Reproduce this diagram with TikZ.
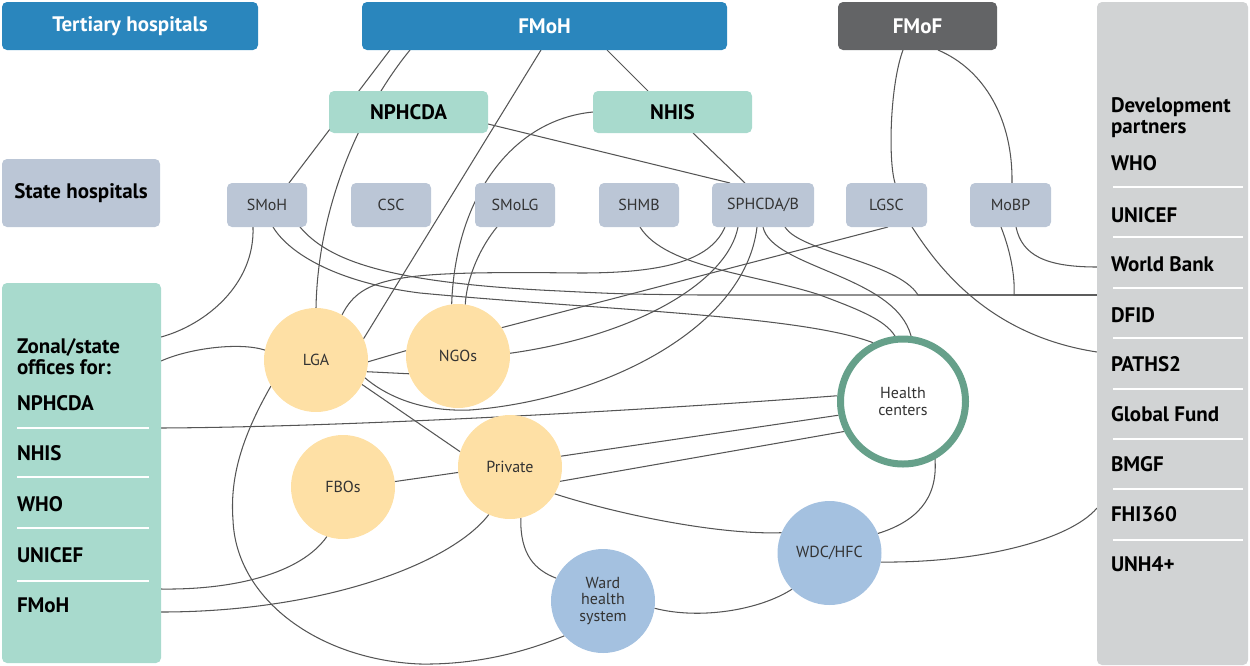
\documentclass[tikz,border=0pt]{standalone}
\usepackage{fontspec}
\setmainfont{PT Sans}
\definecolor{hblue}{HTML}{2A86BD}
\definecolor{hgray}{HTML}{636466}
\definecolor{mint}{HTML}{A8DACD}
\definecolor{sblue}{HTML}{BBC6D6}
\definecolor{dpgray}{HTML}{D1D3D4}
\definecolor{yel}{HTML}{FEE0A5}
\definecolor{cblue}{HTML}{A4C1E0}
\definecolor{hcgreen}{HTML}{66A08A}
\definecolor{lnc}{HTML}{555555}
\definecolor{txtgray}{HTML}{333333}
\newcommand\myhd{\fontsize{21}{22}\selectfont\bfseries}
\newcommand\mylt{\fontsize{16}{16.5}\selectfont}
\pgfdeclarelayer{bg}
\pgfsetlayers{bg,main}
\begin{document}
\begin{tikzpicture}[x=1pt,y=-1pt,
  every node/.style={inner sep=0pt, outer sep=0pt},
  bbox/.style={rounded corners=5pt, font=\myhd},
  sbox/.style={rounded corners=5pt, fill=sblue, minimum width=80pt, minimum height=44pt, font=\mylt, text=txtgray},
  circ/.style={circle, minimum size=104pt, font=\mylt, text=txtgray, align=center},
  lab/.style={anchor=base west, font=\myhd},
  sepline/.style={draw=white, line width=1.5pt},
  conn/.style={draw=lnc, line width=1.05pt}
]
\useasboundingbox (0,0) rectangle (1250,665);
% top boxes
\node[bbox, fill=hblue, text=white, minimum width=256pt, minimum height=48pt] (tert) at (130,26) {Tertiary hospitals};
\node[bbox, fill=hblue, text=white, minimum width=365pt, minimum height=48pt] (fmoh) at (544.5,26) {FMoH};
\node[bbox, fill=hgray, text=white, minimum width=159pt, minimum height=48pt] (fmof) at (917.5,26) {FMoF};
\node[bbox, fill=mint, minimum width=159pt, minimum height=42pt] (nphcda) at (408.5,112) {NPHCDA};
\node[bbox, fill=mint, minimum width=159pt, minimum height=42pt] (nhis) at (672.5,112) {NHIS};
\node[bbox, fill=sblue, minimum width=158pt, minimum height=68pt] (sh) at (81,193) {State hospitals};
% state level boxes
\node[sbox] (smoh) at (267,205) {SMoH};
\node[sbox] (csc) at (391,205) {CSC};
\node[sbox] (smolg) at (515,205) {SMoLG};
\node[sbox] (shmb) at (639,205) {SHMB};
\node[sbox, minimum width=102pt] (sphcda) at (763,205) {SPHCDA/B};
\node[sbox, minimum width=81pt] (lgsc) at (886.5,205) {LGSC};
\node[sbox, minimum width=81pt] (mobp) at (1010.5,205) {MoBP};
% side boxes
\node[bbox, fill=mint, minimum width=159pt, minimum height=380pt] (zonal) at (81.5,473) {};
\node[bbox, fill=dpgray, minimum width=151pt, minimum height=663pt] (dp) at (1172.5,333.5) {};
% zonal list
\node[lab] (z1) at (17,353) {Zonal/state};
\node[lab] (z2) at (17,374) {offices for:};
\node[lab] (z3) at (17,410) {NPHCDA};
\node[lab] (z4) at (17,460) {NHIS};
\node[lab] (z5) at (17,511) {WHO};
\node[lab] (z6) at (17,562) {UNICEF};
\node[lab] (z7) at (17,612) {FMoH};
\foreach \yy in {428,477,528,581} \draw[sepline] (17,\yy) -- (149,\yy);
% development partners list
\node[lab] (d1) at (1111,112) {Development};
\node[lab] (d2) at (1111,133) {partners};
\node[lab] (d3) at (1111,170) {WHO};
\node[lab] (d4) at (1111,222) {UNICEF};
\node[lab] (d5) at (1111,271) {World Bank};
\node[lab] (d6) at (1111,322) {DFID};
\node[lab] (d7) at (1111,371) {PATHS2};
\node[lab] (d8) at (1111,421) {Global Fund};
\node[lab] (d9) at (1111,471) {BMGF};
\node[lab] (d10) at (1111,521) {FHI360};
\node[lab] (d11) at (1111,571) {UNH4+};
\foreach \yy in {187,237,288,338,389,439,489,540} \draw[sepline] (1113,\yy) -- (1243,\yy);
% circles
\node[circ, fill=yel] (lga) at (316,360) {LGA};
\node[circ, fill=yel] (ngos) at (458,356) {NGOs};
\node[circ, fill=yel] (fbos) at (343,487) {FBOs};
\node[circ, fill=yel] (private) at (510,467) {Private};
\node[circ, fill=cblue] (ward) at (603,601) {Ward\\health\\system};
\node[circ, fill=cblue] (wdc) at (829.5,553) {WDC/HFC};
\node[circle, draw=hcgreen, fill=white, line width=7pt, minimum size=125pt, outer sep=3.5pt, font=\mylt, text=txtgray, align=center] (hc) at (903,401.5) {Health\\centers};
% connectors
\begin{pgfonlayer}{bg}
\draw[conn] ([xshift=-154.5pt]fmoh.south) -- ([xshift=22pt]smoh.north);
\draw[conn] ([xshift=-134.5pt]fmoh.south) .. controls (365,105) and (318,200) .. (lga.north);
\draw[conn] ([xshift=-3.5pt]fmoh.south) -- (lga.24);
\draw[conn] ([xshift=62.5pt]fmoh.south) -- ([xshift=-24.5pt]nhis.north);
\draw[conn] ([yshift=-12pt]nphcda.east) -- ([xshift=-33pt]sphcda.north);
\draw[conn] ([xshift=20.5pt]nhis.south) -- ([xshift=-18pt]sphcda.north);
\draw[conn] (nhis.west) .. controls (510,120) and (455,200) .. (ngos.97);
\draw[conn] ([xshift=-18pt]smolg.south) .. controls (482,245) and (467,275) .. (ngos.82);
\draw[conn] ([xshift=-14.5pt]fmof.south) .. controls (890,85) and (888,160) .. ([xshift=8.5pt]lgsc.north);
\draw[conn] ([xshift=20.5pt]fmof.south) .. controls (985,70) and (1013,120) .. ([xshift=1.5pt]mobp.north);
\draw[conn] ([xshift=5.5pt]mobp.south) .. controls (1022,255) and (1045,267) .. ([yshift=66.5pt]dp.west);
\draw[conn] ([xshift=-9.5pt]mobp.south) .. controls (1012,255) and (1015,280) .. (1014,295) -- ([yshift=38.5pt]dp.west);
\draw[conn] ([xshift=33pt]smoh.south) .. controls (328,260) and (385,283) .. (560,291) .. controls (620,294) .. (700,295) -- ([yshift=38.5pt]dp.west);
\draw[conn] ([xshift=22pt]sphcda.south) .. controls (800,252) and (898,262) .. (918,295) -- ([yshift=38.5pt]dp.west);
\draw[conn] ([xshift=6pt]smoh.south) .. controls (290,255) and (340,283) .. (420,293) .. controls (600,310) and (800,315) .. (hc.117);
\draw[conn] ([xshift=1pt]shmb.south) .. controls (665,268) and (760,275) .. (820,295) .. controls (860,310) and (885,320) .. (hc.97);
\draw[conn] (sphcda.south) .. controls (772,268) and (895,275) .. (hc.83);
\draw[conn] ([xshift=-38pt]sphcda.south) .. controls (710,262) and (660,273) .. (580,273) .. controls (400,271) and (362,275) .. (lga.60);
\draw[conn] ([xshift=-25pt]sphcda.south) .. controls (728,280) and (640,335) .. (ngos.3);
\draw[conn] ([xshift=-6pt]sphcda.south) .. controls (745,330) and (600,400) .. (470,410) .. controls (420,412) and (385,395) .. (lga.340);
\draw[conn] (ngos.33) -- ([xshift=1.5pt]lgsc.south);
\draw[conn] (lga.358) -- (ngos.174);
\draw[conn] (lga.347) -- (ngos.200);
\draw[conn] (lga.332) -- (private.163);
\draw[conn] (fbos.6) -- (private.186);
\draw[conn] ([yshift=45pt]zonal.east) .. controls (350,427) and (650,410) .. (hc.175);
\draw[conn] (private.12) -- (hc.192);
\draw[conn] (private.344) -- (hc.207);
\draw[conn] (private.329) .. controls (620,515) and (720,535) .. (wdc.157);
\draw[conn] (private.282) .. controls (520,555) and (535,570) .. (ward.154);
\draw[conn] (private.246) .. controls (450,565) and (320,612) .. ([yshift=-139pt]zonal.east);
\draw[conn] (fbos.252) .. controls (300,575) and (230,590) .. ([yshift=-116pt]zonal.east);
\draw[conn] (ward.352) .. controls (700,620) and (760,610) .. (wdc.224);
\draw[conn] (lga.210) .. controls (240,440) and (230,480) .. (233,520) .. controls (236,600) and (320,660) .. (420,664) .. controls (480,665) and (530,650) .. (ward.222);
\draw[conn] (hc.299) .. controls (938,500) and (915,522) .. (wdc.22);
\draw[conn] (wdc.350) .. controls (980,563) and (1070,540) .. ([yshift=-174.5pt]dp.west);
\draw[conn] ([xshift=25.5pt]lgsc.south) .. controls (935,262) and (985,335) .. ([yshift=-18.5pt]dp.west);
\draw[conn] ([yshift=136pt]zonal.east) .. controls (205,325) and (255,285) .. ([xshift=-14pt]smoh.south);
\draw[conn] ([yshift=112pt]zonal.east) .. controls (190,348) and (240,342) .. (lga.169);
\end{pgfonlayer}
\end{tikzpicture}
\end{document}
